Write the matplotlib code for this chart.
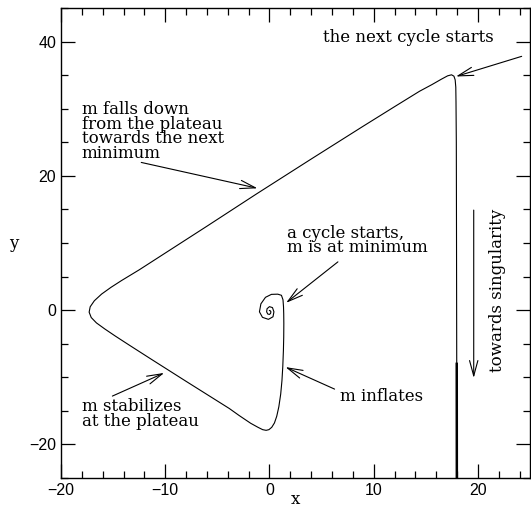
import matplotlib
matplotlib.use("Agg")
import matplotlib.pyplot as plt
from matplotlib.ticker import MultipleLocator

# traced trajectory (data units)
curve_x = [0.0, 0.08, 0.14, 0.11, 0.0, -0.16, -0.27, -0.23, 0.0, 0.29, 0.43, 0.34,
           -0.10, -0.67, -0.96, -0.82, -0.38, 0.19, 0.80, 1.15, 1.30, 1.35, 1.37,
           1.38, 1.37, 1.34, 1.28, 1.20, 1.08, 0.90, 0.70, 0.48, 0.22, -0.05, -0.32,
           -0.65, -1.10, -1.80, -2.90, -3.85, -8.0, -11.4, -13.46, -14.8, -15.8,
           -16.6, -17.1, -17.3, -17.2, -16.8, -16.1, -15.2, -14.2, -12.5, -11.06,
           -6.0, -1.25, 4.0, 9.0, 12.0, 14.4, 15.6, 16.5, 17.1, 17.47, 17.7, 17.82,
           17.88, 17.9, 17.93, 17.95, 17.97]
curve_y = [-0.06, -0.09, -0.25, -0.48, -0.64, -0.58, -0.25, 0.21, 0.52, 0.38, -0.25,
           -0.99, -1.37, -1.07, -0.25, 0.94, 1.91, 2.35, 2.38, 2.21, 1.54, 0.49, -0.55,
           -2.0, -4.0, -6.0, -8.4, -10.5, -12.5, -14.4, -15.8, -16.8, -17.45, -17.8,
           -17.9, -17.8, -17.45, -16.85, -15.7, -14.65, -10.6, -7.25, -5.2, -3.85,
           -2.8, -1.9, -1.1, -0.3, 0.5, 1.4, 2.4, 3.4, 4.4, 6.0, 7.44,
           12.5, 17.3, 22.5, 27.4, 30.3, 32.6, 33.6, 34.4, 34.9, 35.05, 34.85, 34.3,
           33.2, 31.0, 25.0, 10.0, -8.0]
# rapid final collapse (drawn thicker)
tail_x = [17.97, 17.98]
tail_y = [-8.0, -25.0]

# annotations: text, text position, arrow start, arrow end
notes = [
    ("the next cycle starts", (5.1, 40.6), (24.2, 37.8), (17.9, 34.8)),
    ("m falls down\nfrom the plateau\ntowards the next\nminimum", (-18.0, 26.6), (-12.3, 22.0), (-1.15, 18.15)),
    ("a cycle starts,\nm is at minimum", (1.73, 10.4), (6.57, 7.19), (1.6, 1.09)),
    ("m inflates", (6.8, -12.9), (6.25, -11.76), (1.54, -8.48)),
    ("m stabilizes\nat the plateau", (-18.0, -15.45), (-15.07, -12.8), (-10.1, -9.35)),
]
sing_text = "towards singularity"
sing_arrow = ((19.6, 14.9), (19.6, -10.1))

fig = plt.figure(figsize=(5.31, 5.08), dpi=100)
ax = fig.add_axes([61/531, 30/508, 469/531, 470/508])

ax.plot(curve_x, curve_y, color="black", lw=0.8)
ax.plot(tail_x, tail_y, color="black", lw=1.8)

tfont = dict(family="DejaVu Serif", fontsize=12, linespacing=0.8)
for txt, tp, a0, a1 in notes:
    ax.text(tp[0], tp[1], txt, ha="left", va="center", **tfont)
    ax.annotate("", xy=a1, xytext=a0,
                arrowprops=dict(arrowstyle="->,head_length=1.1,head_width=0.3",
                                color="black", lw=0.8, shrinkA=0, shrinkB=0))

ax.text(21.9, 2.9, sing_text, rotation=90, ha="center", va="center", **tfont)
ax.annotate("", xy=sing_arrow[1], xytext=sing_arrow[0],
            arrowprops=dict(arrowstyle="->,head_length=1.1,head_width=0.3",
                            color="black", lw=0.8, shrinkA=0, shrinkB=0))

ax.set_xlim(-20, 25)
ax.set_ylim(-25, 45)
ax.xaxis.set_major_locator(MultipleLocator(10))
ax.xaxis.set_minor_locator(MultipleLocator(2))
ax.yaxis.set_major_locator(MultipleLocator(20))
ax.yaxis.set_minor_locator(MultipleLocator(5))
ax.tick_params(which="both", direction="in", top=True, right=True, width=0.9,
               labelsize=11.5)
ax.tick_params(which="major", length=10)
ax.tick_params(which="minor", length=5)
for lab in ax.get_xticklabels() + ax.get_yticklabels():
    lab.set_family("Liberation Sans")
for s in ax.spines.values():
    s.set_linewidth(1.0)

ax.set_xlabel("x", fontsize=12, family="DejaVu Serif")
ax.xaxis.set_label_coords(0.5, -0.028)
ax.set_ylabel("y", fontsize=12, family="DejaVu Serif", rotation=0, va="center")
ax.yaxis.set_label_coords(-0.1, 0.5)

fig.savefig("out.png", dpi=100)
